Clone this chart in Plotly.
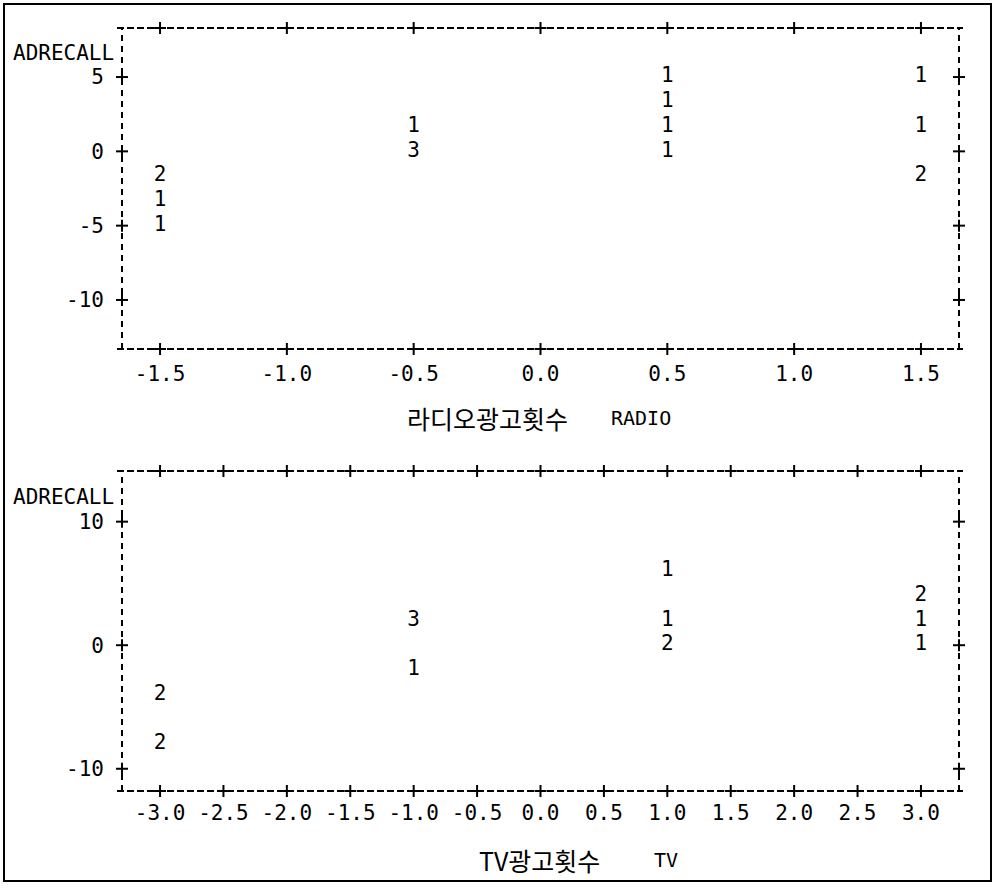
import plotly.graph_objects as go

# ---------------- data ----------------
radio_x = [-1.5, -1.5, -1.5, -0.5, -0.5, 0.5, 0.5, 0.5, 0.5, 1.5, 1.5, 1.5]
radio_y = [-1.67, -3.33, -5.0, 1.67, 0.0, 5.0, 3.33, 1.67, 0.0, 5.0, 1.67, -1.67]
radio_n = [2, 1, 1, 1, 3, 1, 1, 1, 1, 1, 1, 2]

tv_x = [-3, -3, -1, -1, 1, 1, 1, 3, 3, 3]
tv_y = [-4, -8, 2, -2, 6, 2, 0, 4, 2, 0]
tv_n = [2, 2, 3, 1, 1, 1, 2, 2, 1, 1]

radio_xticks = [-1.5, -1.0, -0.5, 0.0, 0.5, 1.0, 1.5]
radio_xlabels = ["-1.5", "-1.0", "-0.5", "0.0", "0.5", "1.0", "1.5"]
radio_yticks = [5, 0, -5, -10]
radio_ylabels = ["5", "0", "-5", "-10"]

tv_xticks = [-3.0, -2.5, -2.0, -1.5, -1.0, -0.5, 0.0, 0.5, 1.0, 1.5, 2.0, 2.5, 3.0]
tv_xlabels = ["-3.0", "-2.5", "-2.0", "-1.5", "-1.0", "-0.5", "0.0",
              "0.5", "1.0", "1.5", "2.0", "2.5", "3.0"]
tv_yticks = [10, 0, -10]
tv_ylabels = ["10", "0", "-10"]

y_name = "ADRECALL"
radio_title_kr, radio_title_en = "라디오광고횟수", "RADIO"
tv_title_kr, tv_title_en = "TV광고횟수", "TV"

# ---------------- layout helpers ----------------
W, H = 997, 888
def px(x):
    return x / W
def py(y):
    return 1 - y / H

MONO = "DejaVu Sans Mono"
KR = "Noto Sans CJK KR"
FS = 21
BLACK = "black"

fig = go.Figure()
fig.add_trace(go.Scatter(
    x=radio_x, y=radio_y, text=[str(n) for n in radio_n], mode="text",
    textfont=dict(family=MONO, size=FS, color=BLACK), textposition="middle center",
    xaxis="x", yaxis="y", showlegend=False, hoverinfo="skip"))
fig.add_trace(go.Scatter(
    x=tv_x, y=tv_y, text=[str(n) for n in tv_n], mode="text",
    textfont=dict(family=MONO, size=FS, color=BLACK), textposition="middle center",
    xaxis="x2", yaxis="y2", showlegend=False, hoverinfo="skip"))

axis_common = dict(showgrid=False, zeroline=False, showline=False, ticks="",
                   tickfont=dict(family=MONO, size=FS, color=BLACK),
                   tickmode="array", fixedrange=True)

fig.update_layout(
    width=W, height=H, margin=dict(l=0, r=0, t=0, b=0),
    paper_bgcolor="white", plot_bgcolor="white", showlegend=False,
    xaxis=dict(domain=[px(122), px(959)], range=[-1.65, 1.65],
               tickvals=radio_xticks, ticktext=radio_xlabels, anchor="y",
               ticklabelstandoff=10, **axis_common),
    yaxis=dict(domain=[py(349), py(28)], range=[-13.3, 8.3],
               tickvals=radio_yticks, ticktext=radio_ylabels, anchor="x",
               ticklabelstandoff=17, **axis_common),
    xaxis2=dict(domain=[px(122), px(959)], range=[-3.30, 3.30],
                tickvals=tv_xticks, ticktext=tv_xlabels, anchor="y2",
                ticklabelstandoff=7, **axis_common),
    yaxis2=dict(domain=[py(791), py(471)], range=[-11.8, 14.1],
                tickvals=tv_yticks, ticktext=tv_ylabels, anchor="x2",
                ticklabelstandoff=17, **axis_common),
)

shapes = []
HDASH = "7px,3px"
VDASH = "6px,5px"
for xa, ya, xt, yt in [("x", "y", radio_xticks, radio_yticks),
                        ("x2", "y2", tv_xticks, tv_yticks)]:
    # dashed frame
    for yd in (0, 1):
        shapes.append(dict(type="line", xref="paper", yref=f"{ya} domain",
                           x0=px(117), x1=px(963), y0=yd, y1=yd,
                           line=dict(color=BLACK, width=2, dash=HDASH)))
    for xd in (0, 1):
        shapes.append(dict(type="line", xref=f"{xa} domain", yref=f"{ya} domain",
                           x0=xd, x1=xd, y0=0, y1=1,
                           line=dict(color=BLACK, width=2, dash=VDASH)))
    # "+" tick marks on top/bottom
    for t in xt:
        for yd in (0, 1):
            shapes.append(dict(type="line", xref=xa, yref=f"{ya} domain",
                               ysizemode="pixel", yanchor=yd, x0=t, x1=t, y0=-6, y1=6,
                               line=dict(color=BLACK, width=2)))
            shapes.append(dict(type="line", xref=xa, yref=f"{ya} domain",
                               xsizemode="pixel", xanchor=t, x0=-6, x1=6, y0=yd, y1=yd,
                               line=dict(color=BLACK, width=2)))
    # "+" tick marks on left/right
    for t in yt:
        for xd in (0, 1):
            shapes.append(dict(type="line", xref=f"{xa} domain", yref=ya,
                               xsizemode="pixel", xanchor=xd, x0=-6, x1=6, y0=t, y1=t,
                               line=dict(color=BLACK, width=2)))
            shapes.append(dict(type="line", xref=f"{xa} domain", yref=ya,
                               ysizemode="pixel", yanchor=t, x0=xd, x1=xd, y0=-6, y1=6,
                               line=dict(color=BLACK, width=2)))

# outer page border
shapes.append(dict(type="rect", xref="paper", yref="paper",
                   x0=px(4), x1=px(991), y0=py(881), y1=py(4),
                   line=dict(color=BLACK, width=2)))
fig.update_layout(shapes=shapes)

annotations = []
# y-axis names
for yy in (53, 497):
    annotations.append(dict(text=y_name, xref="paper", yref="paper",
                            x=px(116), y=py(yy), xanchor="right", yanchor="middle",
                            showarrow=False, font=dict(family=MONO, size=FS, color=BLACK)))
# x-axis titles
annotations.append(dict(text=radio_title_kr, xref="paper", yref="paper",
                        x=px(570), y=py(418), xanchor="right", yanchor="middle",
                        showarrow=False, font=dict(family=KR, size=25, color=BLACK)))
annotations.append(dict(text=radio_title_en, xref="paper", yref="paper",
                        x=px(609), y=py(418), xanchor="left", yanchor="middle",
                        showarrow=False, font=dict(family=MONO, size=FS - 1, color=BLACK)))
annotations.append(dict(text=tv_title_kr, xref="paper", yref="paper",
                        x=px(602), y=py(860), xanchor="right", yanchor="middle",
                        showarrow=False, font=dict(family=KR, size=25, color=BLACK)))
annotations.append(dict(text=tv_title_en, xref="paper", yref="paper",
                        x=px(652), y=py(860), xanchor="left", yanchor="middle",
                        showarrow=False, font=dict(family=MONO, size=FS - 1, color=BLACK)))
fig.update_layout(annotations=annotations)

fig.write_html(
    "out.html",
    config={"displayModeBar": False},
    post_script="document.body.style.margin='0';document.body.style.padding='0';"
                "document.body.style.overflow='hidden';",
)
